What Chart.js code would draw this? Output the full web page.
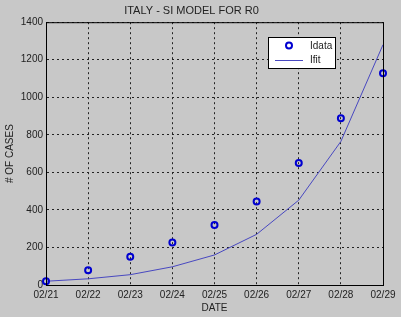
<!DOCTYPE html>
<html lang="en">
<head>
<meta charset="UTF-8" />
<title>ITALY - SI MODEL FOR R0</title>
<script src="https://cdn.jsdelivr.net/npm/chart.js"></script>
<style>
  html, body { margin: 0; padding: 0; background: #c8c8c8; }
  #wrap { width: 401px; height: 317px; }
</style>
</head>
<body>
<div id="wrap"><canvas id="siChart" width="401" height="317"></canvas></div>
<script>
  // data
  const dates = ['02/21', '02/22', '02/23', '02/24', '02/25', '02/26', '02/27', '02/28', '02/29'];
  const idata = [20, 79, 150, 227, 320, 445, 650, 888, 1128];
  const ifit = [20, 33, 55, 97, 160, 270, 452, 765, 1280];
  const yTicks = [0, 200, 400, 600, 800, 1000, 1200, 1400];

  const txt = '#222';
  const font = { family: 'Liberation Sans, Arial, sans-serif', size: 10 };

  // box around the axes + inset legend, matlab style
  const boxAndLegend = {
    id: 'boxAndLegend',
    afterDraw(chart) {
      const { ctx, chartArea: a } = chart;
      ctx.save();
      ctx.strokeStyle = '#000';
      ctx.lineWidth = 1;
      ctx.setLineDash([]);
      ctx.strokeRect(a.left + 0.5, a.top + 0.5, a.right - a.left, a.bottom - a.top);

      // legend
      ctx.fillStyle = '#fff';
      ctx.fillRect(268, 37, 68, 32);
      ctx.strokeRect(268.5, 37.5, 67, 31);
      const ds = chart.data.datasets;
      ctx.strokeStyle = ds[0].borderColor;
      ctx.lineWidth = 2;
      ctx.beginPath();
      ctx.arc(289, 45.5, 3, 0, Math.PI * 2);
      ctx.stroke();
      ctx.strokeStyle = ds[1].borderColor;
      ctx.lineWidth = 1;
      ctx.beginPath();
      ctx.moveTo(275, 60.5);
      ctx.lineTo(303, 60.5);
      ctx.stroke();
      ctx.fillStyle = txt;
      ctx.font = '10px ' + font.family;
      ctx.textBaseline = 'middle';
      ctx.fillText(ds[0].label, 310, 46);
      ctx.fillText(ds[1].label, 310, 60);
      ctx.restore();
    }
  };

  new Chart(document.getElementById('siChart'), {
    type: 'line',
    data: {
      labels: dates,
      datasets: [{
        label: 'Idata',
        data: idata,
        showLine: false,
        borderColor: '#0000d0',
        backgroundColor: 'rgba(0,0,0,0)',
        pointRadius: 3,
        pointBorderWidth: 2,
        clip: false
      }, {
        label: 'Ifit',
        data: ifit,
        borderColor: '#4848c0',
        borderWidth: 1,
        pointRadius: 0,
        tension: 0,
        fill: false
      }]
    },
    options: {
      responsive: false,
      animation: false,
      layout: { padding: { left: 0, right: 18, top: 0, bottom: 0 } },
      scales: {
        x: {
          type: 'category',
          offset: false,
          grid: { color: '#222', lineWidth: 1, drawTicks: false },
          border: { color: '#000', dash: [2, 3] },
          ticks: { color: txt, font: font, padding: 4, maxRotation: 0, autoSkip: false },
          title: { display: true, text: 'DATE', color: txt, font: font, padding: { top: 0, bottom: 3 } },
          afterFit(s) { s.height = 32; }
        },
        y: {
          min: 0,
          max: 1400,
          afterBuildTicks(s) { s.ticks = yTicks.map(v => ({ value: v })); },
          grid: { color: '#222', lineWidth: 1, drawTicks: false },
          border: { color: '#000', dash: [2, 3] },
          ticks: { color: txt, font: font, padding: 3, callback: v => String(v) },
          title: { display: true, text: '# OF CASES', color: txt, font: font, padding: { top: 4, bottom: 0 } },
          afterFit(s) { s.width = 46; }
        }
      },
      plugins: {
        legend: { display: false },
        tooltip: { enabled: false },
        title: {
          display: true,
          text: 'ITALY - SI MODEL FOR R0',
          color: txt,
          font: { family: font.family, size: 11, weight: 'normal' },
          padding: { top: 4, bottom: 5 }
        }
      }
    },
    plugins: [boxAndLegend]
  });
</script>
</body>
</html>
